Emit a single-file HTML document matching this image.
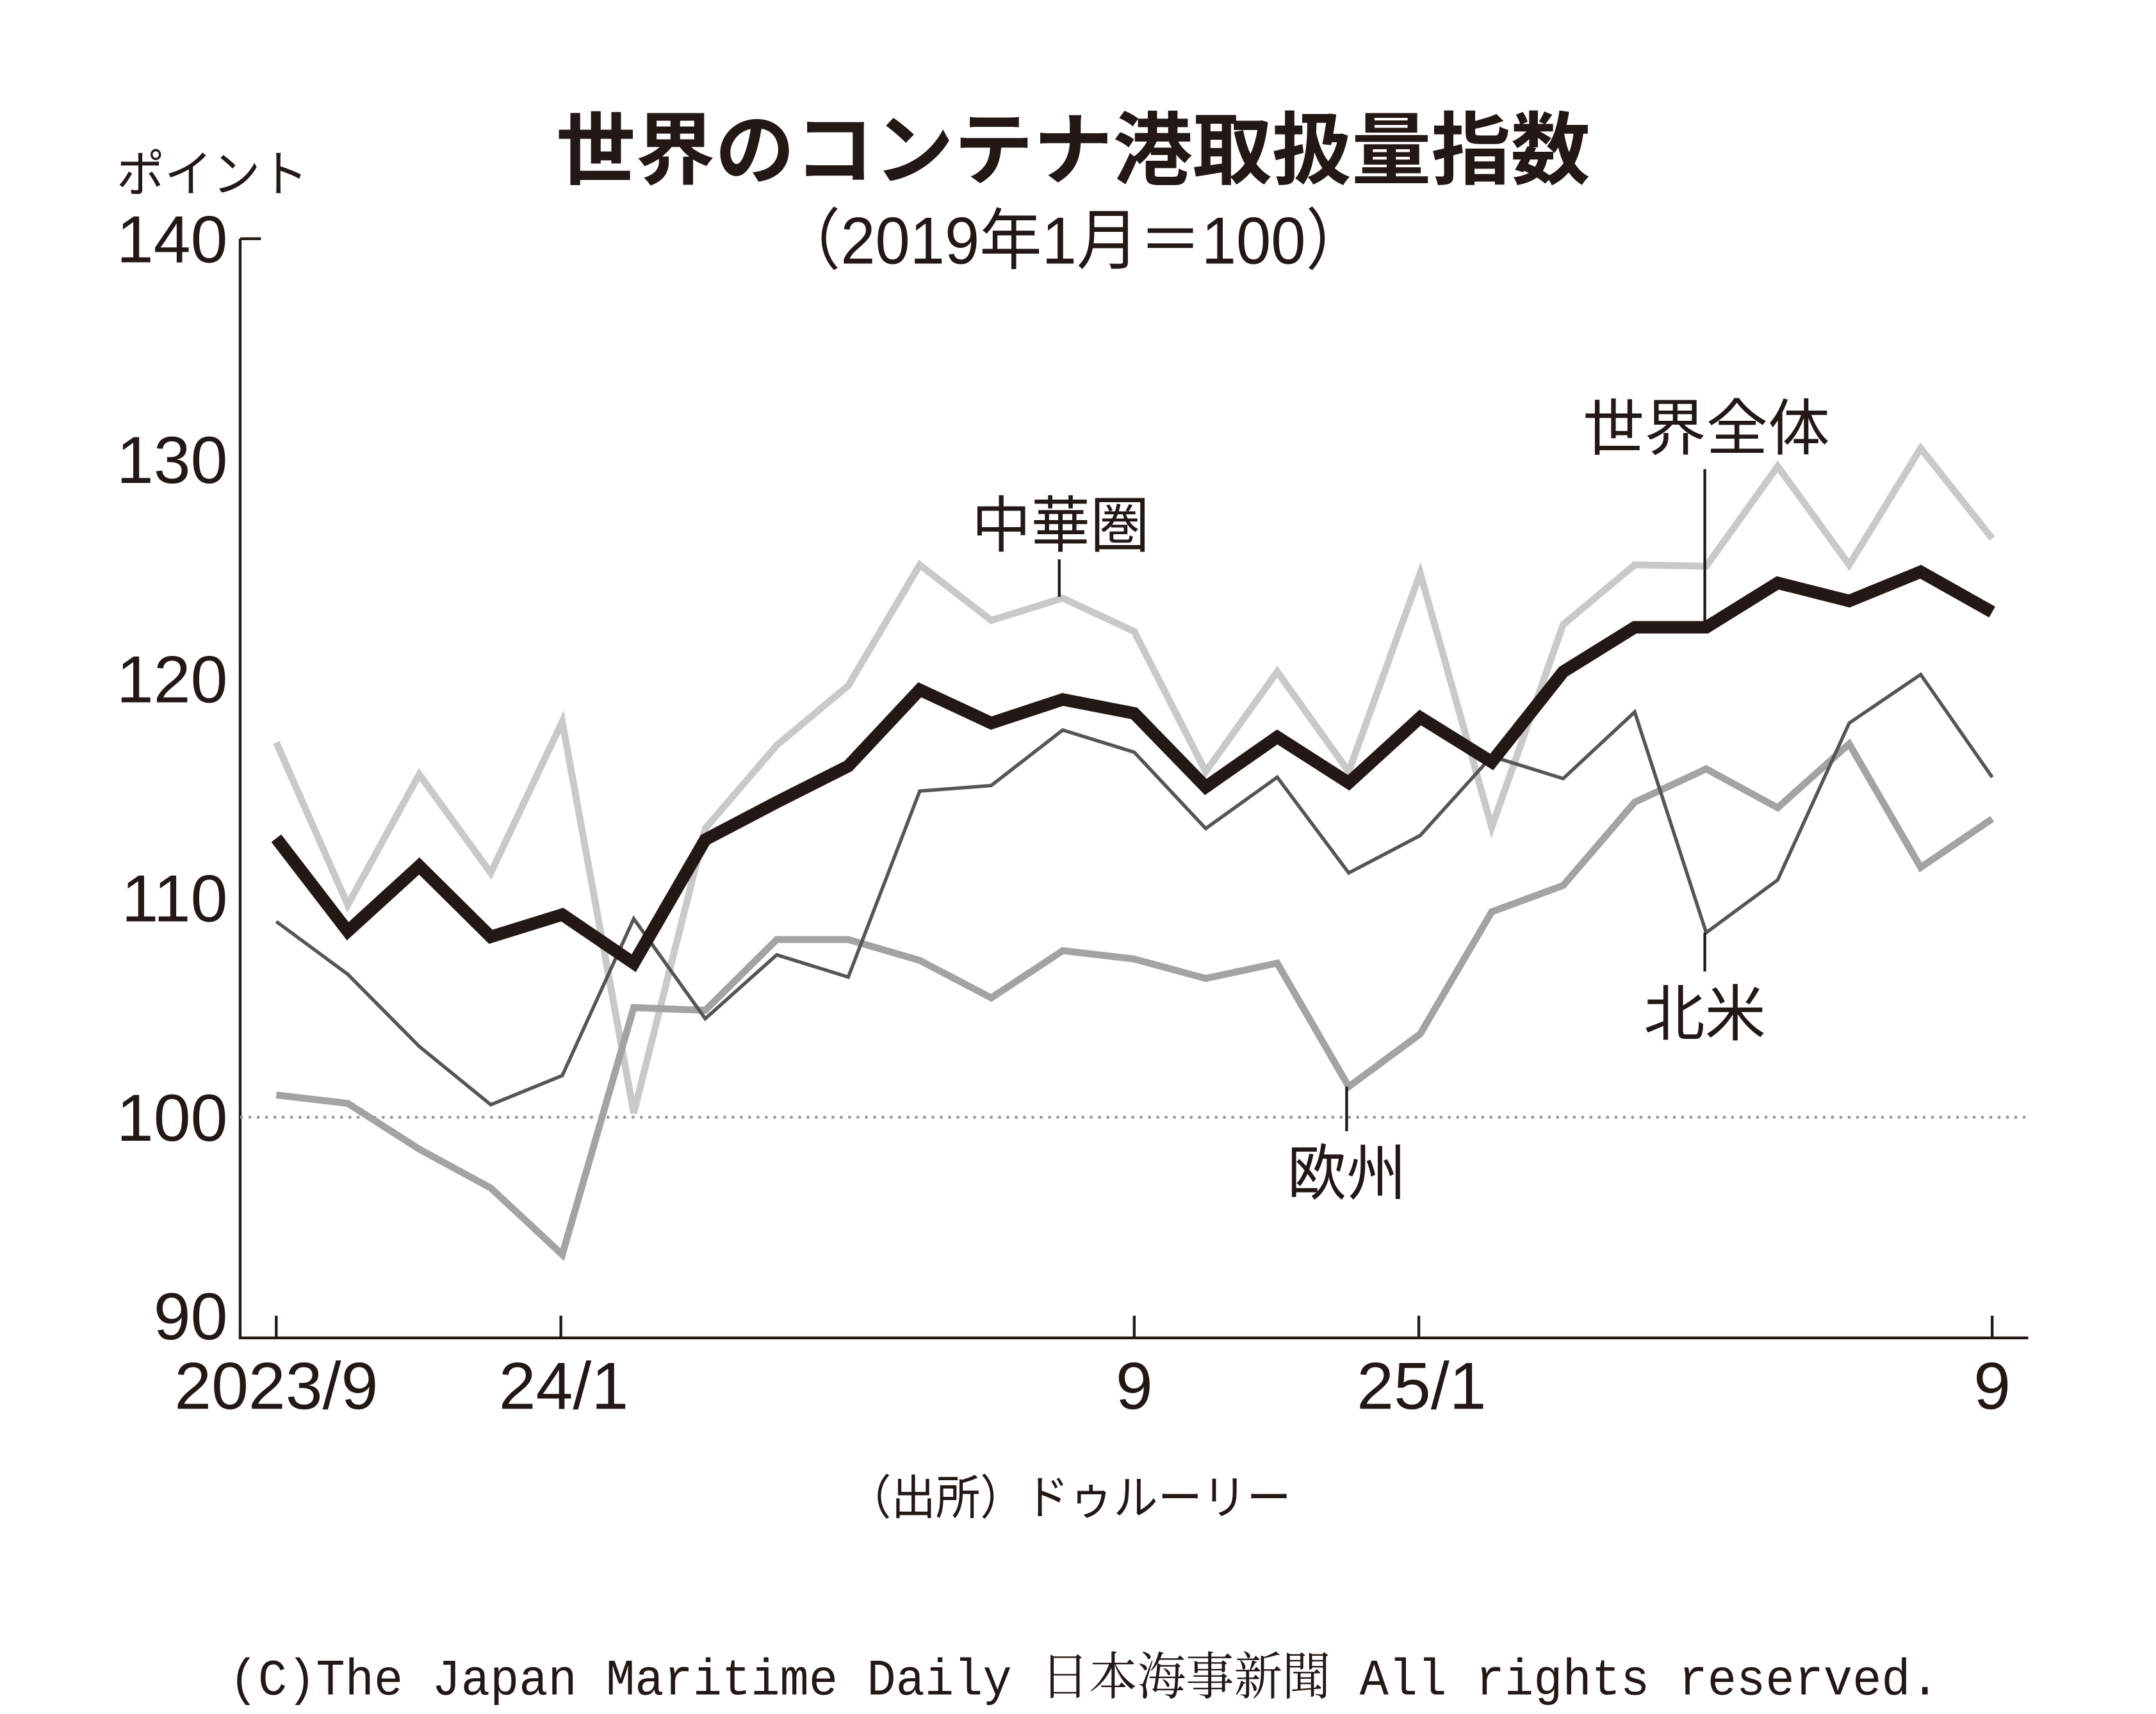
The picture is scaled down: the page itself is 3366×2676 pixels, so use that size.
<!DOCTYPE html>
<html><head><meta charset="utf-8"><style>html,body{margin:0;padding:0;background:#fff}svg{display:block}</style></head>
<body>
<svg width="3366" height="2676" viewBox="0 0 1553 1235" preserveAspectRatio="none" xmlns="http://www.w3.org/2000/svg" font-family="'Liberation Sans','Noto Sans CJK JP',sans-serif">
<rect width="1553" height="1235" fill="#fff"/>
<text x="773" y="128" text-anchor="middle" font-size="57" font-weight="bold" fill="#231815" textLength="745" lengthAdjust="spacingAndGlyphs">世界のコンテナ港取扱量指数</text>
<text x="773" y="190" text-anchor="middle" font-size="48" fill="#231815" textLength="425" lengthAdjust="spacingAndGlyphs">（2019年1月＝100）</text>
<text x="84" y="138" font-size="36" fill="#231815" textLength="138" lengthAdjust="spacingAndGlyphs">ポイント</text>
<g font-size="48" fill="#231815" text-anchor="end">
<text x="164" y="189">140</text><text x="164" y="348">130</text><text x="164" y="506">120</text>
<text x="164" y="664">110</text><text x="164" y="822">100</text><text x="164" y="965">90</text>
</g>
<line x1="173" y1="172" x2="173" y2="964" stroke="#231815" stroke-width="2"/>
<line x1="173" y1="172" x2="188" y2="172" stroke="#231815" stroke-width="2"/>
<line x1="172" y1="964" x2="1461" y2="964" stroke="#231815" stroke-width="2"/>
<line x1="173" y1="805" x2="1461" y2="805" stroke="#999" stroke-width="2" stroke-dasharray="2,4"/>
<g stroke="#231815" stroke-width="2">
<line x1="199" y1="948" x2="199" y2="964"/><line x1="404" y1="948" x2="404" y2="964"/>
<line x1="817" y1="948" x2="817" y2="964"/><line x1="1022" y1="948" x2="1022" y2="964"/>
<line x1="1435" y1="948" x2="1435" y2="964"/>
</g>
<g font-size="48" fill="#231815" text-anchor="middle">
<text x="199" y="1015">2023/9</text><text x="406" y="1015">24/1</text><text x="817" y="1015">9</text>
<text x="1024" y="1015">25/1</text><text x="1435" y="1015">9</text>
</g>
<g fill="none" stroke-linejoin="miter" stroke-linecap="butt">
<polyline stroke="#c9c9c9" stroke-width="5" points="199,535 250.5,652 302,558 353.5,629 405,520 456.5,802 508,597 559.5,537 611,494 662.5,407 714,447 765.5,431 817,455 868.5,556 920,484 971.5,556 1023,413 1074.5,596 1126,450 1177.5,407 1229,408 1280.5,336 1332,407 1383.5,323 1435,388"/>
<polyline stroke="#a3a3a3" stroke-width="5" points="199,789 250.5,795 302,828 353.5,856 405,904 456.5,726 508,728 559.5,677 611,677 662.5,692 714,719 765.5,685 817,691 868.5,705 920,694 971.5,783 1023,745 1074.5,657 1126,638 1177.5,578 1229,554 1280.5,582 1332,536 1383.5,625 1435,590"/>
<polyline stroke="#555" stroke-width="2.5" points="199,664 250.5,702 302,754 353.5,796 405,775 456.5,662 508,734 559.5,688 611,704 662.5,570 714,566 765.5,526 817,542 868.5,597 920,560 971.5,629 1023,602 1074.5,545 1126,561 1177.5,513 1229,672 1280.5,634 1332,521 1383.5,486 1435,560"/>
<polyline stroke="#231815" stroke-width="9" points="199,604 250.5,671 302,624 353.5,675 405,659 456.5,694 508,605 559.5,578 611,552 662.5,497 714,521 765.5,504 817,514 868.5,567 920,531 971.5,564 1023,517 1074.5,549 1126,484 1177.5,452 1229,452 1280.5,420 1332,433 1383.5,412 1435,441"/>
</g>
<g stroke="#231815" stroke-width="2">
<line x1="763" y1="403" x2="763" y2="430"/><line x1="1228" y1="338" x2="1228" y2="452"/>
<line x1="1228" y1="672" x2="1228" y2="700"/><line x1="970" y1="783" x2="970" y2="815"/>
</g>
<g font-size="44" fill="#231815" text-anchor="middle">
<text x="764" y="394" textLength="128" lengthAdjust="spacingAndGlyphs">中華圏</text><text x="1229" y="324" textLength="178" lengthAdjust="spacingAndGlyphs">世界全体</text>
<text x="1228" y="746" textLength="88" lengthAdjust="spacingAndGlyphs">北米</text><text x="970" y="861" textLength="86" lengthAdjust="spacingAndGlyphs">欧州</text>
</g>
<text x="770" y="1091" text-anchor="middle" font-size="34" fill="#231815" textLength="320" lengthAdjust="spacingAndGlyphs">（出所）ドゥルーリー</text>
<text x="165" y="1221" font-size="37" fill="#231815" textLength="1232" lengthAdjust="spacingAndGlyphs" font-family="'Liberation Mono','Noto Serif CJK SC',monospace">(C)The Japan Maritime Daily 日本海事新聞 All rights reserved.</text>
</svg>
</body></html>
